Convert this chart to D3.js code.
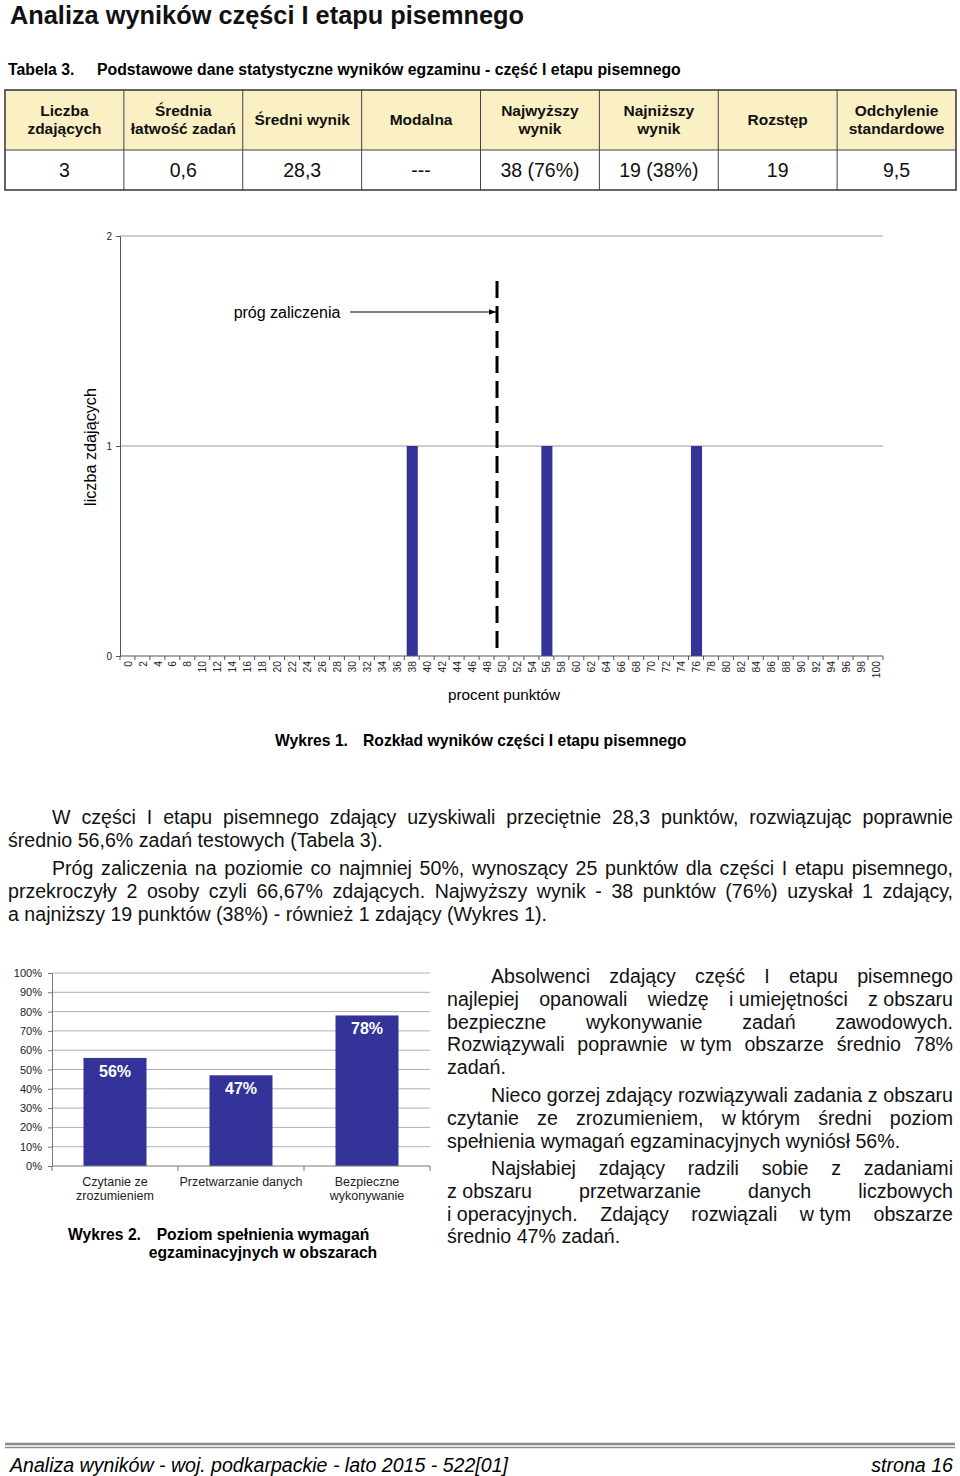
<!DOCTYPE html>
<html>
<head>
<meta charset="utf-8">
<script src="https://cdn.jsdelivr.net/npm/d3@7"></script>
<style>
  body { margin: 0; background: #fff; }
  svg { display: block; font-family: "Liberation Sans", Arial, sans-serif; }
</style>
</head>
<body>
<div id="page"></div>
<script>
// ---- data ----
const tableHeaders = [["Liczba", "zdających"], ["Średnia", "łatwość zadań"], ["Średni wynik"], ["Modalna"],
  ["Najwyższy", "wynik"], ["Najniższy", "wynik"], ["Rozstęp"], ["Odchylenie", "standardowe"]];
const tableValues = ["3", "0,6", "28,3", "---", "38 (76%)", "19 (38%)", "19", "9,5"];

const percentCategories = d3.range(0, 101, 2); // tick labels 0..100
const countByPercent = {38: 1, 56: 1, 76: 1};
const passThreshold = 50;

const areaNames = [["Czytanie ze", "zrozumieniem"], ["Przetwarzanie danych"], ["Bezpieczne", "wykonywanie"]];
const areaValues = [56, 47, 78];
const areaTicks = d3.range(0, 101, 10);

const para1 = [
  "W części I etapu pisemnego zdający uzyskiwali przeciętnie 28,3 punktów, rozwiązując poprawnie",
  "średnio 56,6% zadań testowych (Tabela 3)."];
const para2 = [
  "Próg zaliczenia na poziomie co najmniej 50%, wynoszący 25 punktów dla części I etapu pisemnego,",
  "przekroczyły 2 osoby czyli 66,67% zdających. Najwyższy wynik - 38 punktów (76%) uzyskał 1 zdający,",
  "a najniższy 19 punktów (38%) - również 1 zdający (Wykres 1)."];
const side1 = [
  "Absolwenci zdający część I etapu pisemnego",
  "najlepiej opanowali wiedzę i\u00a0umiejętności z\u00a0obszaru",
  "bezpieczne wykonywanie zadań zawodowych.",
  "Rozwiązywali poprawnie w\u00a0tym obszarze średnio 78%",
  "zadań."];
const side2 = [
  "Nieco gorzej zdający rozwiązywali zadania z obszaru",
  "czytanie ze zrozumieniem, w\u00a0którym średni poziom",
  "spełnienia wymagań egzaminacyjnych wyniósł 56%."];
const side3 = [
  "Najsłabiej zdający radzili sobie z zadaniami",
  "z\u00a0obszaru przetwarzanie danych liczbowych",
  "i\u00a0operacyjnych. Zdający rozwiązali w\u00a0tym obszarze",
  "średnio 47% zadań."];

const W = 960, H = 1476;
const svg = d3.select("#page").append("svg").attr("width", W).attr("height", H);
svg.append("rect").attr("width", W).attr("height", H).attr("fill", "#fff");

// ---- title ----
svg.append("text").attr("x", 10).attr("y", 24)
  .attr("font-weight", "bold").attr("font-size", 26.5).attr("fill", "#111")
  .attr("textLength", 514).attr("lengthAdjust", "spacingAndGlyphs")
  .text("Analiza wyników części I etapu pisemnego");

svg.append("text").attr("x", 8).attr("y", 75).attr("font-weight", "bold").attr("font-size", 15.8)
  .text("Tabela 3.");
svg.append("text").attr("x", 97).attr("y", 75).attr("font-weight", "bold").attr("font-size", 15.8)
  .text("Podstawowe dane statystyczne wyników egzaminu - część I etapu pisemnego");

// ---- table ----
const tx = d3.scaleBand().domain(d3.range(tableHeaders.length)).range([5, 956]);
const tTop = 90, tMid = 150, tBot = 190;
const tbl = svg.append("g");
tbl.append("rect").attr("x", 5).attr("y", tTop).attr("width", 951).attr("height", tMid - tTop)
  .attr("fill", "#fbefc4");
tableHeaders.forEach((lines, i) => {
  const cx = tx(i) + tx.bandwidth() / 2;
  const t = tbl.append("text").attr("text-anchor", "middle").attr("font-weight", "bold")
    .attr("font-size", 15.5).attr("fill", "#111");
  const y0 = lines.length === 1 ? 125 : 116;
  lines.forEach((l, j) => t.append("tspan").attr("x", cx).attr("y", y0 + j * 18).text(l));
  tbl.append("text").attr("x", cx).attr("y", 177).attr("text-anchor", "middle")
    .attr("font-size", 19.5).attr("fill", "#111").text(tableValues[i]);
});
tableHeaders.forEach((d, i) => {
  if (i === 0) return;
  tbl.append("line").attr("x1", tx(i)).attr("x2", tx(i)).attr("y1", tTop).attr("y2", tBot)
    .attr("stroke", "#444").attr("stroke-width", 1);
});
tbl.append("line").attr("x1", 5).attr("x2", 956).attr("y1", tMid).attr("y2", tMid)
  .attr("stroke", "#444").attr("stroke-width", 1);
tbl.append("rect").attr("x", 5).attr("y", tTop).attr("width", 951).attr("height", tBot - tTop)
  .attr("fill", "none").attr("stroke", "#333").attr("stroke-width", 1.5);

// ---- chart 1 ----
const barColor = "#333399";
const x1 = d3.scaleBand().domain(percentCategories).range([120, 883]).paddingInner(0.26).paddingOuter(0.13);
const y1 = d3.scaleLinear().domain([0, 2]).range([656, 236]);
const c1 = svg.append("g");
c1.selectAll(".grid").data([1, 2]).enter().append("line")
  .attr("x1", 120).attr("x2", 883).attr("y1", d => y1(d)).attr("y2", d => y1(d))
  .attr("stroke", "#9a9a9a").attr("stroke-width", 1);
c1.selectAll(".bar").data(percentCategories.filter(p => countByPercent[p])).enter().append("rect")
  .attr("x", d => x1(d) + 0.5).attr("width", x1.bandwidth())
  .attr("y", d => y1(countByPercent[d])).attr("height", d => y1(0) - y1(countByPercent[d]))
  .attr("fill", barColor);
// y axis
c1.append("g").attr("transform", "translate(120,0)")
  .call(d3.axisLeft(y1).tickValues([0, 1, 2]).tickFormat(d3.format("d")).tickSize(4).tickPadding(4))
  .call(g => {
    g.select(".domain").attr("stroke", "#555");
    g.selectAll(".tick line").attr("stroke", "#555");
    g.selectAll("text").attr("font-size", 10).attr("fill", "#222").style("font-family", "Liberation Sans");
  });
// x axis
const step1 = x1.step();
c1.append("line").attr("x1", 120).attr("x2", 883).attr("y1", 656).attr("y2", 656)
  .attr("stroke", "#555").attr("stroke-width", 1.2);
c1.selectAll(".xt").data(d3.range(percentCategories.length + 1)).enter().append("line")
  .attr("x1", i => 120 + i * step1).attr("x2", i => 120 + i * step1)
  .attr("y1", 656).attr("y2", 660).attr("stroke", "#555");
c1.selectAll(".xl").data(percentCategories).enter().append("text")
  .attr("transform", d => `translate(${x1(d) + x1.bandwidth() / 2 + 0.5},661) rotate(-90)`)
  .attr("text-anchor", "end").attr("dy", "0.35em").attr("font-size", 10.3).attr("fill", "#222")
  .text(d => d);
// threshold
const thrX = x1(passThreshold) - (step1 - x1.bandwidth()) / 2 + 3;
c1.append("line").attr("x1", thrX).attr("x2", thrX).attr("y1", 281).attr("y2", 656)
  .attr("stroke", "#000").attr("stroke-width", 3).attr("stroke-dasharray", "17,8");
svg.append("defs").append("marker").attr("id", "arr").attr("viewBox", "0 0 10 10")
  .attr("refX", 10).attr("refY", 5).attr("markerWidth", 7).attr("markerHeight", 7)
  .attr("orient", "auto").append("path").attr("d", "M0,1 L10,5 L0,9 Z").attr("fill", "#000");
c1.append("line").attr("x1", 350).attr("x2", thrX - 1).attr("y1", 312).attr("y2", 312)
  .attr("stroke", "#000").attr("stroke-width", 1).attr("marker-end", "url(#arr)");
c1.append("text").attr("x", 287).attr("y", 318).attr("text-anchor", "middle").attr("font-size", 16)
  .text("próg zaliczenia");
c1.append("text").attr("transform", "translate(96,447) rotate(-90)").attr("text-anchor", "middle")
  .attr("font-size", 16.2).text("liczba zdających");
c1.append("text").attr("x", 504).attr("y", 700).attr("text-anchor", "middle").attr("font-size", 15.3)
  .text("procent punktów");
svg.append("text").attr("x", 275).attr("y", 746).attr("font-weight", "bold").attr("font-size", 15.7)
  .text("Wykres 1.");
svg.append("text").attr("x", 363).attr("y", 746).attr("font-weight", "bold").attr("font-size", 15.7)
  .text("Rozkład wyników części I etapu pisemnego");

// ---- justified text ----
function justify(lines, x0, x1r, yStart, lh, indent, size) {
  const g = svg.append("g").attr("font-size", size).attr("fill", "#111");
  lines.forEach((line, li) => {
    const y = yStart + li * lh;
    const left = li === 0 ? x0 + indent : x0;
    const words = line.split(" ");
    const last = li === lines.length - 1;
    const nodes = words.map(w => g.append("text").attr("y", y).text(w.replace(/\u00a0/g, " ")));
    const widths = nodes.map(n => n.node().getComputedTextLength());
    const space = size * 0.278;
    const total = d3.sum(widths);
    const gap = (last || words.length < 2) ? space : (x1r - left - total) / (words.length - 1);
    let cx = left;
    nodes.forEach((n, i) => { n.attr("x", cx); cx += widths[i] + gap; });
  });
}
justify(para1, 8, 953, 824, 23, 44, 19.6);
justify(para2, 8, 953, 875, 23, 44, 19.6);
justify(side1, 447, 953, 983, 22.8, 44, 19.6);
justify(side2, 447, 953, 1102, 22.8, 44, 19.6);
justify(side3, 447, 953, 1175, 22.8, 44, 19.6);

// ---- chart 2 ----
const x2 = d3.scaleBand().domain(d3.range(areaValues.length)).range([52, 430]).paddingInner(0.5).paddingOuter(0.25);
const y2 = d3.scaleLinear().domain([0, 100]).range([1166, 973]);
const c2 = svg.append("g");
c2.selectAll(".g2").data(areaTicks.slice(1)).enter().append("line")
  .attr("x1", 52).attr("x2", 430).attr("y1", d => y2(d)).attr("y2", d => y2(d))
  .attr("stroke", "#b0b0b0").attr("stroke-width", 1);
c2.selectAll(".bar2").data(areaValues).enter().append("rect")
  .attr("x", (d, i) => x2(i)).attr("width", x2.bandwidth())
  .attr("y", d => y2(d)).attr("height", d => y2(0) - y2(d)).attr("fill", barColor);
c2.selectAll(".lab2").data(areaValues).enter().append("text")
  .attr("x", (d, i) => x2(i) + x2.bandwidth() / 2).attr("y", d => y2(d) + 19)
  .attr("text-anchor", "middle").attr("font-weight", "bold").attr("font-size", 16).attr("fill", "#fff")
  .text(d => d + "%");
c2.append("g").attr("transform", "translate(52,0)")
  .call(d3.axisLeft(y2).tickValues(areaTicks).tickFormat(d => d + "%").tickSize(4).tickPadding(6))
  .call(g => {
    g.select(".domain").attr("stroke", "#777");
    g.selectAll(".tick line").attr("stroke", "#777");
    g.selectAll("text").attr("font-size", 11).attr("fill", "#222").style("font-family", "Liberation Sans");
  });
c2.append("line").attr("x1", 52).attr("x2", 430).attr("y1", 1166).attr("y2", 1166)
  .attr("stroke", "#777");
c2.selectAll(".xt2").data(d3.range(areaValues.length + 1)).enter().append("line")
  .attr("x1", i => 52 + i * x2.step()).attr("x2", i => 52 + i * x2.step())
  .attr("y1", 1166).attr("y2", 1171).attr("stroke", "#777");
areaNames.forEach((lines, i) => {
  const cx = x2(i) + x2.bandwidth() / 2;
  const t = c2.append("text").attr("text-anchor", "middle").attr("font-size", 12.5).attr("fill", "#222");
  lines.forEach((l, j) => t.append("tspan").attr("x", cx).attr("y", 1186 + j * 14).text(l));
});
svg.append("text").attr("x", 68).attr("y", 1240).attr("font-weight", "bold").attr("font-size", 15.7)
  .text("Wykres 2.");
svg.append("text").attr("x", 263).attr("y", 1240).attr("text-anchor", "middle").attr("font-weight", "bold")
  .attr("font-size", 15.7).text("Poziom spełnienia wymagań");
svg.append("text").attr("x", 263).attr("y", 1258).attr("text-anchor", "middle").attr("font-weight", "bold")
  .attr("font-size", 15.7).text("egzaminacyjnych w obszarach");

// ---- footer ----
svg.append("line").attr("x1", 5).attr("x2", 955).attr("y1", 1444).attr("y2", 1444)
  .attr("stroke", "#8a8a8a").attr("stroke-width", 2.5);
svg.append("line").attr("x1", 5).attr("x2", 955).attr("y1", 1447.5).attr("y2", 1447.5)
  .attr("stroke", "#8a8a8a").attr("stroke-width", 1.5);
svg.append("text").attr("x", 10).attr("y", 1472).attr("font-style", "italic").attr("font-size", 19.6)
  .attr("textLength", 498).attr("lengthAdjust", "spacingAndGlyphs")
  .text("Analiza wyników - woj. podkarpackie - lato 2015 - 522[01]");
svg.append("text").attr("x", 953).attr("y", 1472).attr("text-anchor", "end").attr("font-style", "italic")
  .attr("font-size", 19.6).text("strona 16");
</script>
</body>
</html>
